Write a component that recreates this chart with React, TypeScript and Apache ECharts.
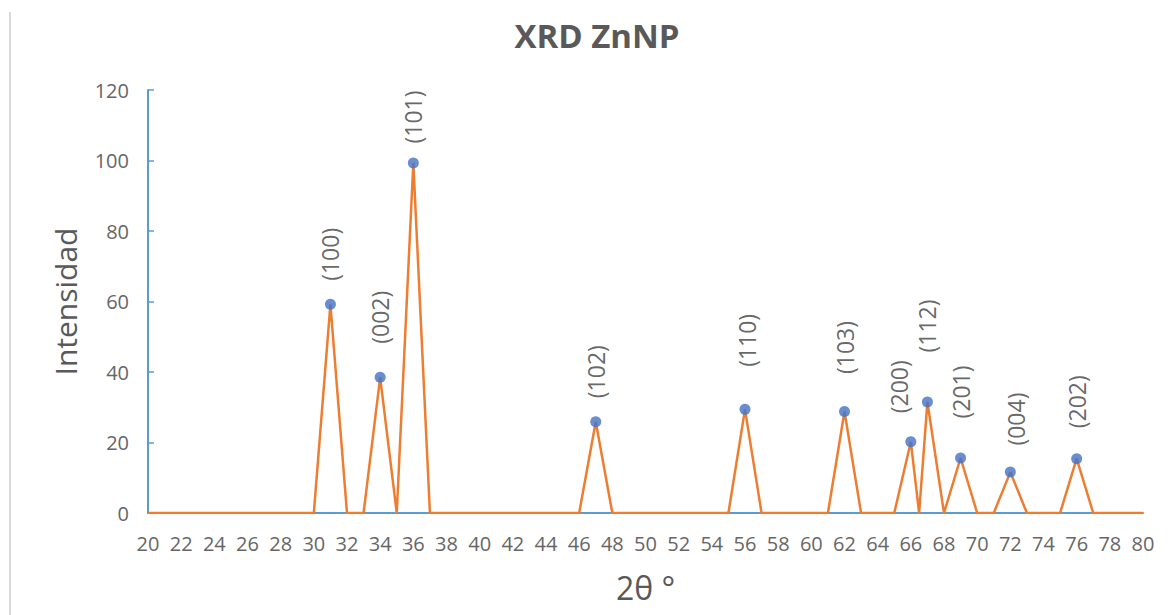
import React, { useEffect, useRef } from "react";
import * as echarts from "echarts";

// Orange profile (2θ, intensity)
const profileX = [20, 30, 31, 32, 33, 34, 35, 36, 37, 46, 47, 48, 55, 56, 57, 61, 62, 63, 65, 66, 66.5, 67, 68, 69, 70, 71, 72, 73, 75, 76, 77, 80];
const profileY = [0, 0, 59.2, 0, 0, 38.5, 0, 99.3, 0, 0, 25.9, 0, 0, 29.4, 0, 0, 28.8, 0, 0, 20.2, 0, 31.5, 0, 15.6, 0, 0, 11.6, 0, 0, 15.4, 0, 0];

// Peak markers
const peakX = [31, 34, 36, 47, 56, 62, 66, 67, 69, 72, 76];
const peakY = [59.2, 38.5, 99.3, 25.9, 29.4, 28.8, 20.2, 31.5, 15.6, 11.6, 15.4];
const peakLabels = ["(100)", "(002)", "(101)", "(102)", "(110)", "(103)", "(200)", "(112)", "(201)", "(004)", "(202)"];

// label layout (pixels): gap above marker, horizontal shift
const labelGap = [18, 28, 14, 18, 37, 32, 23, 44, 34, 21, 25];
const labelDx = [0, 0, 0, 0, 2, 0, -12, 0, 0, 6, 0];

const xTicks = { min: 20, max: 80, interval: 2 };
const yTicks = { min: 0, max: 120, interval: 20 };

const FONT = "'Open Sans', sans-serif";
const AXIS_BLUE = "#5B9BD5";
const ORANGE = "#ED7D31";
const DOT_BLUE = "#4472C4";
const TEXT_GRAY = "#595959";

export default function App() {
  const ref = useRef<HTMLDivElement>(null);
  useEffect(() => {
    if (!ref.current) return;
    const chart = echarts.init(ref.current, null, { renderer: "svg" });
    const symbolSize = 11;
    chart.setOption({
      animation: false,
      backgroundColor: "#ffffff",
      textStyle: { fontFamily: FONT },
      title: {
        text: "XRD ZnNP",
        left: 592,
        top: 14,
        textAlign: "center",
        textStyle: { fontFamily: FONT, fontSize: 33, fontWeight: "bold", color: TEXT_GRAY },
      },
      grid: { left: 148, right: 28, top: 90, bottom: 102, containLabel: false },
      xAxis: {
        type: "value",
        min: xTicks.min,
        max: xTicks.max,
        interval: xTicks.interval,
        axisLine: { show: true, onZero: false, lineStyle: { color: AXIS_BLUE, width: 2 } },
        axisTick: { show: false },
        splitLine: { show: false },
        axisLabel: { fontFamily: FONT, fontSize: 20, color: "#666666", margin: 20 },
        name: "2θ °",
        nameLocation: "middle",
        nameGap: 58,
        nameTextStyle: { fontFamily: FONT, fontSize: 32, color: TEXT_GRAY },
      },
      yAxis: {
        type: "value",
        min: yTicks.min,
        max: yTicks.max,
        interval: yTicks.interval,
        axisLine: { show: true, lineStyle: { color: AXIS_BLUE, width: 2 } },
        axisTick: { show: true, inside: true, length: 6, lineStyle: { color: AXIS_BLUE, width: 1.5 } },
        splitLine: { show: false },
        axisLabel: { fontFamily: FONT, fontSize: 20, color: "#666666", margin: 19 },
        name: "Intensidad",
        nameLocation: "middle",
        nameGap: 68,
        nameTextStyle: { fontFamily: FONT, fontSize: 30, color: TEXT_GRAY },
      },
      graphic: [
        {
          type: "line",
          shape: { x1: 10, y1: 12, x2: 10, y2: 615 },
          style: { stroke: "#d9d9d9", lineWidth: 2 },
          silent: true,
        },
      ],
      series: [
        {
          type: "line",
          data: profileX.map((x, i) => [x, profileY[i]]),
          showSymbol: false,
          symbol: "none",
          lineStyle: { color: ORANGE, width: 2.5 },
          z: 3,
        },
        {
          type: "scatter",
          symbol: "circle",
          symbolSize,
          itemStyle: { color: DOT_BLUE },
          z: 4,
          data: peakX.map((x, i) => ({
            value: [x, peakY[i]],
            label: {
              show: true,
              formatter: peakLabels[i],
              position: [symbolSize / 2 + labelDx[i], -labelGap[i]],
              rotate: 90,
              align: "left",
              verticalAlign: "middle",
              fontFamily: FONT,
              fontSize: 23,
              color: "#404040",
            },
          })),
        },
      ],
    });
    return () => chart.dispose();
  }, []);
  return (
    <div
      ref={ref}
      style={{ position: "fixed", left: 0, top: 0, width: 1171, height: 615, background: "#fff" }}
    />
  );
}
